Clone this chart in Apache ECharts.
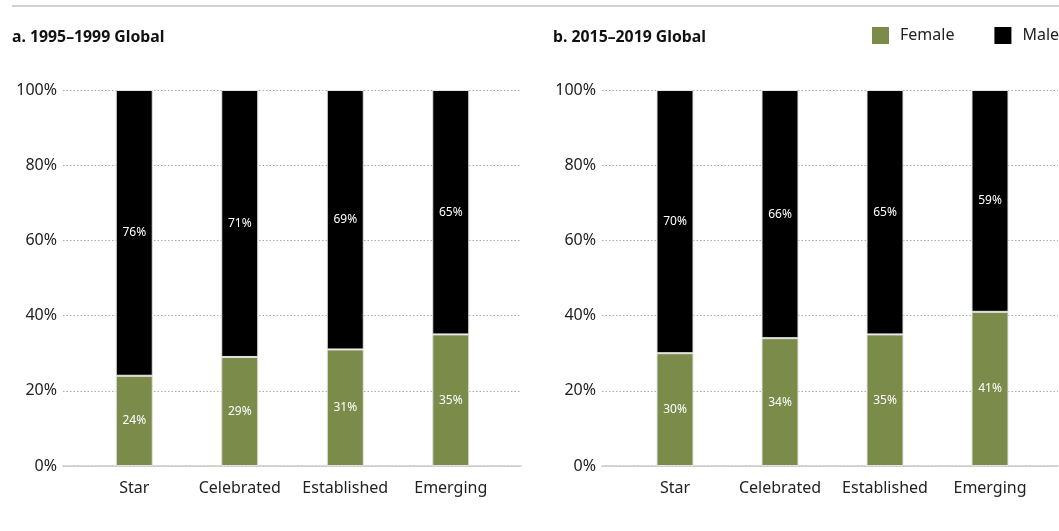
<!DOCTYPE html>
<html>
<head>
<meta charset="utf-8">
<script src="https://cdn.jsdelivr.net/npm/echarts@6/dist/echarts.min.js"></script>
<style>
html,body{margin:0;padding:0;background:#fff;}
#c{width:1059px;height:531px;}
</style>
</head>
<body>
<div id="c"></div>
<script>
const categories = ['Star', 'Celebrated', 'Established', 'Emerging'];
const femaleA = [24, 29, 31, 35];
const maleA = [76, 71, 69, 65];
const femaleB = [30, 34, 35, 41];
const maleB = [70, 66, 65, 59];
const yTicks = [0, 20, 40, 60, 80, 100];
const titleA = 'a. 1995–1999 Global';
const titleB = 'b. 2015–2019 Global';

const FONT = '"Noto Sans", sans-serif';
const GREEN = '#7b8b4a';
const chart = echarts.init(document.getElementById('c'));

const gTop = 90, gBottom = 65;
function frameAxes(gi) {
  return {
    x: { type: 'value', gridIndex: gi, min: 0, max: 1, show: true,
         axisLine: { show: true, onZero: false, lineStyle: { color: '#cccccc', width: 1.5 } },
         axisTick: { show: false }, axisLabel: { show: false }, splitLine: { show: false } },
    y: { type: 'value', gridIndex: gi, min: 0, max: 100, interval: 20,
         axisLine: { show: false }, axisTick: { show: false },
         axisLabel: { margin: 6, color: '#222', fontSize: 16, fontFamily: FONT,
                      formatter: v => yTicks.includes(v) ? v + '%' : '' },
         splitLine: { show: true, lineStyle: { color: '#aaaaaa', type: [1.5, 2], width: 1 } } }
  };
}
function barAxes(gi) {
  return {
    x: { type: 'category', gridIndex: gi, data: categories,
         axisLine: { show: false }, axisTick: { show: false },
         axisLabel: { interval: 0, margin: 14, color: '#222', fontSize: 16, fontFamily: FONT } },
    y: { type: 'value', gridIndex: gi, min: 0, max: 100, show: false, splitLine: { show: false } }
  };
}
const fA = frameAxes(0), bA = barAxes(1), fB = frameAxes(2), bB = barAxes(3);

function barSeries(name, data, color, axisIdx, stack) {
  return {
    name, type: 'bar', stack, data, xAxisIndex: axisIdx, yAxisIndex: axisIdx,
    barWidth: 37,
    itemStyle: { color, borderColor: '#e2e2e2', borderWidth: 1 },
    label: { show: true, position: 'inside', color: '#fff', fontSize: 12, fontWeight: 'normal', fontFamily: FONT,
             formatter: p => p.value + '%' },
    emphasis: { disabled: true }
  };
}

chart.setOption({
  animation: false,
  textStyle: { fontFamily: FONT },
  graphic: [
    { type: 'line', shape: { x1: 12, y1: 6, x2: 1059, y2: 6 }, style: { stroke: '#d0d0d0', lineWidth: 2 } },
    { type: 'text', left: 12, top: 29, style: { text: titleA, font: 'bold 15.8px "Noto Sans", sans-serif', fill: '#111' } },
    { type: 'text', left: 553, top: 29, style: { text: titleB, font: 'bold 15.8px "Noto Sans", sans-serif', fill: '#111' } }
  ],
  legend: {
    data: ['Female', 'Male'], orient: 'horizontal', left: 872, top: 27, width: 200,
    icon: 'rect', itemWidth: 17, itemHeight: 17, padding: 0,
    itemStyle: { borderWidth: 0 },
    itemGap: 40, textStyle: { fontSize: 16, color: '#222', fontFamily: FONT, padding: [0, 0, 0, 6] }
  },
  grid: [
    { left: 63, width: 458, top: gTop, bottom: gBottom },
    { left: 81.5, width: 422, top: gTop, bottom: gBottom },
    { left: 602, width: 456, top: gTop, bottom: gBottom },
    { left: 622.5, width: 420, top: gTop, bottom: gBottom }
  ],
  xAxis: [fA.x, bA.x, fB.x, bB.x],
  yAxis: [fA.y, bA.y, fB.y, bB.y],
  series: [
    barSeries('Female', femaleA, GREEN, 1, 'a'),
    barSeries('Male', maleA, '#000', 1, 'a'),
    barSeries('Female', femaleB, GREEN, 3, 'b'),
    barSeries('Male', maleB, '#000', 3, 'b')
  ]
});
</script>
</body>
</html>
